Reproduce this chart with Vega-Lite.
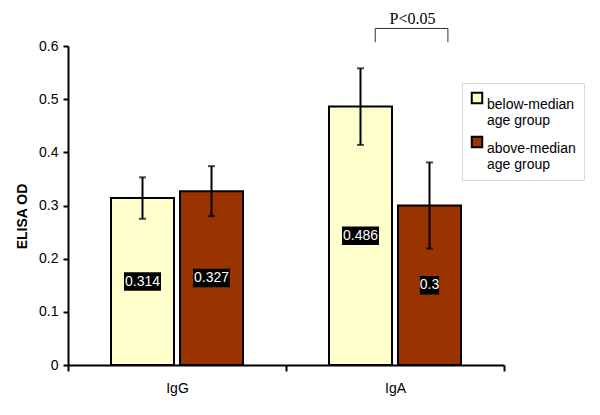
{
  "$schema": "https://vega.github.io/schema/vega-lite/v6.json",
  "width": 436,
  "height": 319,
  "autosize": {"type": "none"},
  "padding": {"left": 68, "top": 46, "right": 96, "bottom": 50},
  "background": "white",
  "config": {
    "view": {"stroke": null},
    "font": "Liberation Sans",
    "axis": {"domainColor": "black", "domainWidth": 2, "tickColor": "black", "tickWidth": 2, "grid": false, "labelColor": "black", "labelFont": "Liberation Sans", "labelFontSize": 14}
  },
  "datasets": {
    "bars": [
      {"antibody": "IgG", "group": "below-median age group", "od": 0.314, "lo": 0.275, "hi": 0.353},
      {"antibody": "IgG", "group": "above-median age group", "od": 0.327, "lo": 0.280, "hi": 0.374},
      {"antibody": "IgA", "group": "below-median age group", "od": 0.486, "lo": 0.414, "hi": 0.558},
      {"antibody": "IgA", "group": "above-median age group", "od": 0.3, "lo": 0.219, "hi": 0.381}
    ],
    "bracket": [
      {"antibody": "IgA", "group": "below-median age group", "y": 0.607, "k": 1},
      {"antibody": "IgA", "group": "below-median age group", "y": 0.633, "k": 2},
      {"antibody": "IgA", "group": "above-median age group", "y": 0.633, "k": 3},
      {"antibody": "IgA", "group": "above-median age group", "y": 0.607, "k": 4}
    ],
    "sig": [{"antibody": "IgA", "group": "below-median age group", "y": 0.642, "label": "P<0.05"}]
  },
  "resolve": {"scale": {"xOffset": "independent"}},
  "encoding": {
    "x": {"field": "antibody", "type": "nominal", "sort": ["IgG", "IgA"],
      "scale": {"paddingInner": 0, "paddingOuter": 0},
      "axis": {"title": null, "labelAngle": 0, "tickBand": "extent", "tickSize": 6, "labelPadding": 10, "labelBaseline": "top"}},
    "xOffset": {"field": "group", "type": "nominal", "sort": ["below-median age group", "above-median age group"],
      "scale": {"type": "band", "domain": ["below-median age group", "above-median age group"], "paddingInner": 0.087, "paddingOuter": 0.623}}
  },
  "layer": [
    {
      "data": {"name": "bars"},
      "mark": {"type": "bar", "stroke": "black", "strokeWidth": 2},
      "encoding": {
        "y": {"field": "od", "type": "quantitative",
          "scale": {"domain": [0, 0.6], "nice": false, "zero": true},
          "axis": {"title": "ELISA OD", "titleFontWeight": "bold", "titleFontSize": 14, "titleFont": "Liberation Sans", "titleColor": "black",
            "titleX": -46, "titleY": 170, "titleAngle": -90, "titleBaseline": "middle", "titleAlign": "center",
            "values": [0, 0.1, 0.2, 0.3, 0.4, 0.5, 0.6], "format": ".1~f", "tickSize": 5, "labelPadding": 5}},
        "fill": {"field": "group", "type": "nominal",
          "sort": ["below-median age group", "above-median age group"],
          "scale": {"domain": ["below-median age group", "above-median age group"], "range": ["#FFFFCC", "#993300"]},
          "legend": {"title": null, "orient": "none", "legendX": 394, "legendY": 37,
            "strokeColor": "#d8d8d8", "padding": 8, "fillColor": "white",
            "symbolType": "square", "symbolSize": 110, "symbolStrokeColor": "black", "symbolStrokeWidth": 2,
            "labelFontSize": 14, "labelFont": "Liberation Sans", "labelColor": "black", "labelLimit": 200,
            "labelExpr": "datum.label == 'below-median age group' ? ['below-median', 'age group'] : ['above-median', 'age group']",
            "labelBaseline": "top", "labelOffset": 3, "rowPadding": 4}}
      }
    },
    {
      "data": {"name": "bars"},
      "mark": {"type": "rule", "color": "black", "strokeWidth": 2},
      "encoding": {
        "y": {"field": "lo", "type": "quantitative"},
        "y2": {"field": "hi"}
      }
    },
    {
      "data": {"name": "bars"},
      "mark": {"type": "tick", "color": "black", "thickness": 2, "size": 7, "orient": "horizontal"},
      "encoding": {"y": {"field": "lo", "type": "quantitative"}}
    },
    {
      "data": {"name": "bars"},
      "mark": {"type": "tick", "color": "black", "thickness": 2, "size": 7, "orient": "horizontal"},
      "encoding": {"y": {"field": "hi", "type": "quantitative"}}
    },
    {
      "data": {"name": "bars"},
      "transform": [{"calculate": "datum.od / 2", "as": "mid"}],
      "mark": {"type": "point", "filled": true, "color": "black", "opacity": 1, "size": 1369},
      "encoding": {
        "y": {"field": "mid", "type": "quantitative"},
        "shape": {"condition": {"test": "datum.od == 0.3", "value": "M-0.52,-0.5H0.52V0.5H-0.52Z"}, "value": "M-1,-0.5H1V0.5H-1Z"}
      }
    },
    {
      "data": {"name": "bars"},
      "transform": [{"calculate": "datum.od / 2", "as": "mid"}],
      "mark": {"type": "text", "color": "white", "fontSize": 14, "font": "Liberation Sans", "baseline": "middle", "align": "center"},
      "encoding": {
        "y": {"field": "mid", "type": "quantitative"},
        "text": {"field": "od", "type": "quantitative"}
      }
    },
    {
      "data": {"name": "bracket"},
      "mark": {"type": "line", "color": "#333333", "strokeWidth": 1},
      "encoding": {
        "xOffset": {"field": "group", "type": "nominal", "sort": ["below-median age group", "above-median age group"],
          "scale": {"type": "point", "domain": ["below-median age group", "above-median age group"], "padding": 1.08, "align": 0.614}},
        "y": {"field": "y", "type": "quantitative"},
        "order": {"field": "k"}
      }
    },
    {
      "data": {"name": "sig"},
      "mark": {"type": "text", "font": "Liberation Serif", "fontSize": 16, "color": "black", "baseline": "alphabetic", "align": "center", "dx": 52},
      "encoding": {
        "y": {"field": "y", "type": "quantitative"},
        "text": {"field": "label"}
      }
    }
  ]
}
